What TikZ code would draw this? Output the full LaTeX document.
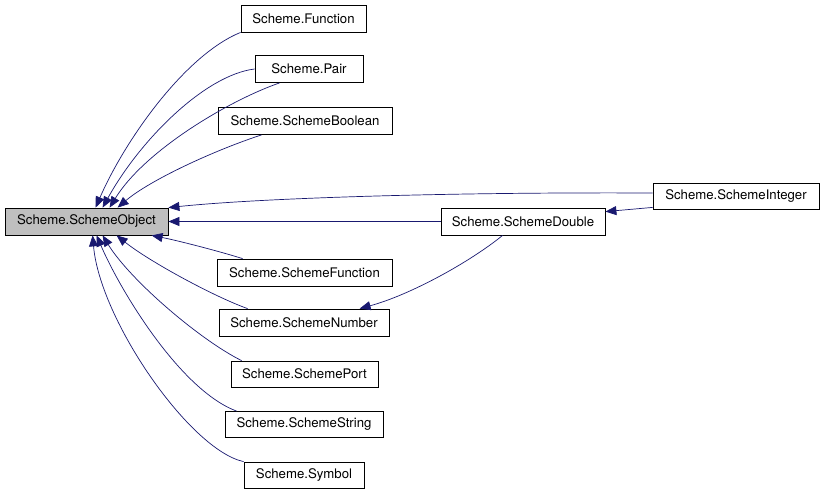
\documentclass[tikz,border=0pt]{standalone}
\usepackage{fontspec}
\setmainfont{TeX Gyre Heros}
\usepackage{tikz}
\usetikzlibrary{arrows.meta, calc}
\definecolor{edgeblue}{RGB}{25,25,112}
\definecolor{basegray}{RGB}{191,191,191}
\tikzset{
    cls/.style={draw=black, line width=0.8pt, inner sep=0pt, minimum height=27pt, font=\fontsize{13.2}{15}\selectfont},
    base/.style={cls, fill=basegray},
    inh/.style={-{Triangle[length=11pt, width=9pt]}, edgeblue, line width=0.7pt}
}
\begin{document}
\begin{tikzpicture}[x=1pt, y=-1pt]
    \useasboundingbox (0,0) rectangle (824,493);

    % Clase base
    \node[base, minimum width=163pt] (obj) at (86.5,221.5) {Scheme.SchemeObject};

    % Columna central: subclases directas
    \node[cls, minimum width=125pt] (func) at (303.5,18.5) {Scheme.Function};
    \node[cls, minimum width=108pt] (pair) at (309,69) {Scheme.Pair};
    \node[cls, minimum width=174pt] (bool) at (305,121) {Scheme.SchemeBoolean};
    \node[cls, minimum width=175pt] (sfunc) at (304.5,272.5) {Scheme.SchemeFunction};
    \node[cls, minimum width=170pt] (num) at (304,322.5) {Scheme.SchemeNumber};
    \node[cls, minimum width=147pt, minimum height=26pt] (port) at (304.5,374) {Scheme.SchemePort};
    \node[cls, minimum width=158pt, minimum height=26pt] (str) at (304,424.5) {Scheme.SchemeString};
    \node[cls, minimum width=120pt, minimum height=26pt] (sym) at (304,475) {Scheme.Symbol};

    % Derecha: tipos numéricos
    \node[cls, minimum width=164pt] (dbl) at (523,221.5) {Scheme.SchemeDouble};
    \node[cls, minimum width=166pt, minimum height=26pt] (int) at (736,196) {Scheme.SchemeInteger};

    % Herencia hacia arriba de la base
    \draw[inh] (func.south west) .. controls (185,55) and (125,140) .. ($(obj.north west)+(91,0)$);
    \draw[inh] (pair.west) .. controls (205,75) and (140,140) .. ($(obj.north west)+(98,0)$);
    \draw[inh] ($(pair.south west)+(25,0)$) .. controls (230,100) and (145,150) .. ($(obj.north west)+(105,0)$);
    \draw[inh] ($(bool.south west)+(44,0)$) .. controls (215,150) and (150,180) .. ($(obj.north west)+(113,0)$);

    % Herencia hacia abajo de la base
    \draw[inh] ($(sfunc.north west)+(26,0)$) .. controls (215,250) and (175,240) .. ($(obj.south west)+(147,0)$);
    \draw[inh] ($(num.north west)+(29,0)$) .. controls (215,297) and (150,262) .. ($(obj.south west)+(112,0)$);
    \draw[inh] ($(port.north west)+(11,0)$) .. controls (200,340) and (130,280) .. ($(obj.south west)+(98,0)$);
    \draw[inh] ($(str.north west)+(12,0)$) .. controls (180,390) and (120,290) .. ($(obj.south west)+(92,0)$);
    \draw[inh] (sym.north west) .. controls (190,450) and (100,320) .. ($(obj.south west)+(88,0)$);

    % Tipos numéricos
    \draw[inh] ($(int.west)+(0,-3)$) .. controls (450,192) and (260,198) .. (obj.north east);
    \draw[inh] (dbl.west) -- (obj.east);
    \draw[inh] ($(int.south west)+(0,-2)$) -- ($(dbl.north east)+(0,4)$);
    \draw[inh] ($(dbl.south west)+(62,0)$) .. controls (470,262) and (410,295) .. ($(num.north west)+(141,0)$);
\end{tikzpicture}
\end{document}
